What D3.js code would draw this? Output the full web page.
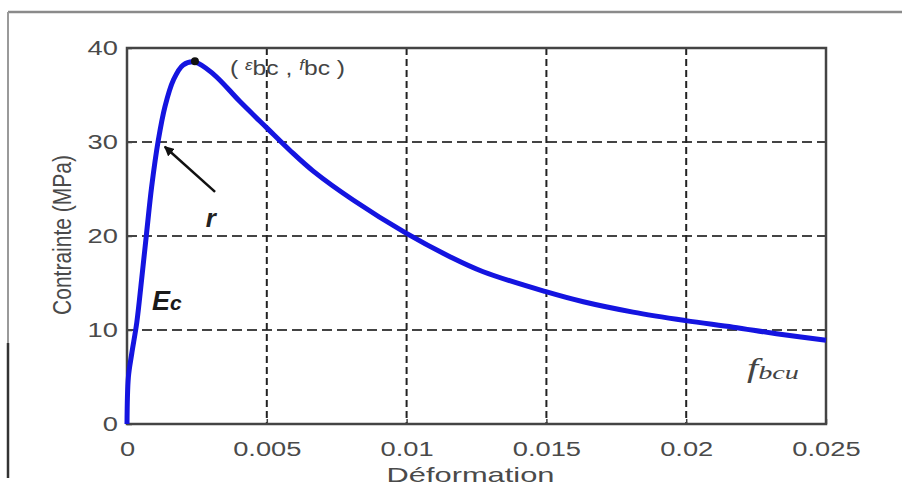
<!DOCTYPE html>
<html>
<head>
<meta charset="utf-8">
<script src="https://cdn.jsdelivr.net/npm/d3@7"></script>
<style>
  body { margin: 0; background: #fff; }
  svg { display: block; font-family: 'Liberation Sans', Arial, sans-serif; }
</style>
</head>
<body>
<div class="chart"></div>
<script>
// strain (Deformation) and stress (Contrainte, MPa)
var strain = [0, 0.00005, 0.00017, 0.00035, 0.00052, 0.0007, 0.00088, 0.00112, 0.00136, 0.00166,
  0.00201, 0.00243, 0.0031, 0.00404, 0.005, 0.00583, 0.00666, 0.0081, 0.00998, 0.01155,
  0.01274, 0.01495, 0.01632, 0.0181, 0.01998, 0.02168, 0.02323, 0.025]
var stress = [0, 5.0, 7.5, 10.8, 15.3, 20.3, 25.2, 30.2, 33.8, 36.6,
  38.2, 38.5, 37.2, 34.3, 31.5, 29.1, 26.9, 23.8, 20.3, 17.8,
  16.2, 14.1, 13.0, 11.9, 11.0, 10.3, 9.6, 8.9]
var xTicks = [0, 0.005, 0.01, 0.015, 0.02, 0.025]
var xTickLabels = ['0', '0.005', '0.01', '0.015', '0.02', '0.025']
var yTicks = [0, 10, 20, 30, 40]
var peak = {strain: 0.00243, stress: 38.6}
var arrowFrom = {strain: 0.00315, stress: 24.7}
var arrowTo = {strain: 0.00135, stress: 29.5}

var data = strain.map(function(s, i) {
  return {strain: s, stress: stress[i]}
})

var margin = {top: 48, right: 76, bottom: 62, left: 127}
var width = 902 - margin.left - margin.right
var height = 486 - margin.top - margin.bottom

var svg = d3.select('.chart')
  .append('svg')
  .attr('width', 902)
  .attr('height', 486)

// outer frame of the screenshot
svg.append('line')
  .attr('x1', 8).attr('x2', 902).attr('y1', 12).attr('y2', 12)
  .style('stroke', '#8a8a8a').style('stroke-width', 2.5)
svg.append('line')
  .attr('x1', 8).attr('x2', 8).attr('y1', 12).attr('y2', 343)
  .style('stroke', '#9a9a9a').style('stroke-width', 2)
svg.append('line')
  .attr('x1', 8).attr('x2', 8).attr('y1', 343).attr('y2', 478)
  .style('stroke', '#333').style('stroke-width', 2.5)

var g = svg.append('g')
  .attr('transform', 'translate(' + margin.left + ',' + margin.top + ')')

var x = d3.scaleLinear().domain([0, 0.025]).range([0, width])
var y = d3.scaleLinear().domain([0, 40]).range([height, 0])

// dashed grid
g.append('g').selectAll('line')
  .data(yTicks.filter(function(d) { return d > 0 && d < 40 }))
  .enter().append('line')
  .attr('x1', 0).attr('x2', width)
  .attr('y1', function(d) { return y(d) }).attr('y2', function(d) { return y(d) })
  .style('stroke', '#444').style('stroke-width', 2)
  .style('stroke-dasharray', '10,5')
g.append('g').selectAll('line')
  .data(xTicks.filter(function(d) { return d > 0 && d < 0.025 }))
  .enter().append('line')
  .attr('y1', 0).attr('y2', height)
  .attr('x1', function(d) { return x(d) }).attr('x2', function(d) { return x(d) })
  .style('stroke', '#222').style('stroke-width', 2)
  .style('stroke-dasharray', '7,4')

// axes
var xAxis = g.append('g')
  .attr('class', 'axis axis--x')
  .attr('transform', 'translate(0,' + height + ')')
  .call(d3.axisBottom(x).tickValues(xTicks)
    .tickFormat(function(d, i) { return xTickLabels[i] })
    .tickSize(-5).tickPadding(0))
var yAxis = g.append('g')
  .attr('class', 'axis axis--y')
  .call(d3.axisLeft(y).tickValues(yTicks).tickSize(-5).tickPadding(7))

;[xAxis, yAxis].forEach(function(a) {
  a.select('.domain').remove()
  a.selectAll('line').style('stroke', '#444').style('stroke-width', 1.5)
  a.selectAll('text')
    .style('font-size', '21px')
    .style('fill', '#4a4a4a')
    .attr('transform', 'scale(1.3,1)')
})
xAxis.selectAll('text').attr('y', 17)

// plot box
g.append('rect')
  .attr('width', width).attr('height', height)
  .style('fill', 'none').style('stroke', '#444').style('stroke-width', 2.5)

// axis titles
g.append('text')
  .attr('x', width / 2 - 6)
  .attr('y', height + 58)
  .attr('text-anchor', 'middle')
  .attr('textLength', 168)
  .attr('lengthAdjust', 'spacingAndGlyphs')
  .style('font-size', '21px')
  .style('fill', '#4a4a4a')
  .text('Déformation')
g.append('text')
  .attr('transform', 'translate(' + (71 - margin.left) + ',' + (235 - margin.top) + ') rotate(-90) scale(1,1.25)')
  .attr('text-anchor', 'middle')
  .style('font-size', '21px')
  .style('fill', '#4a4a4a')
  .text('Contrainte (MPa)')

// curve
var line = d3.line()
  .curve(d3.curveCatmullRom.alpha(0.5))
  .x(function(d) { return x(d.strain) })
  .y(function(d) { return y(d.stress) })
g.append('path')
  .datum(data)
  .attr('d', line)
  .style('fill', 'none')
  .style('stroke', '#1414e0')
  .style('stroke-width', 5)
  .style('stroke-linejoin', 'round')

// peak marker
g.append('circle')
  .attr('cx', x(peak.strain)).attr('cy', y(peak.stress))
  .attr('r', 4)
  .style('fill', '#111')

// arrow towards r
svg.append('defs').append('marker')
  .attr('id', 'head')
  .attr('viewBox', '0 0 10 10')
  .attr('refX', 9).attr('refY', 5)
  .attr('markerWidth', 4).attr('markerHeight', 4)
  .attr('orient', 'auto')
  .append('path')
  .attr('d', 'M0,0L10,5L0,10z')
  .style('fill', '#111')
g.append('line')
  .attr('x1', x(arrowFrom.strain)).attr('y1', y(arrowFrom.stress))
  .attr('x2', x(arrowTo.strain)).attr('y2', y(arrowTo.stress))
  .style('stroke', '#111').style('stroke-width', 2.5)
  .attr('marker-end', 'url(#head)')

// labels
g.append('text')
  .attr('x', x(0.003)).attr('y', y(21))
  .attr('text-anchor', 'middle')
  .style('font-size', '26px').style('font-style', 'italic').style('font-weight', 'bold')
  .style('fill', '#222')
  .text('r')

var ec = g.append('text')
  .attr('x', 25).attr('y', 262)
  .style('font-style', 'italic').style('font-weight', 'bold')
  .style('fill', '#1a1a1a')
ec.append('tspan').style('font-size', '27px').text('E')
ec.append('tspan').style('font-size', '21px').text('c')

var pk = g.append('text')
  .attr('x', 103).attr('y', 27)
  .attr('textLength', 115)
  .attr('lengthAdjust', 'spacingAndGlyphs')
  .style('font-size', '20px')
  .style('fill', '#444')
pk.append('tspan').text('( ')
pk.append('tspan').attr('dy', -5).style('font-size', '14px').style('font-style', 'italic').text('ε')
pk.append('tspan').attr('dy', 5).style('font-size', '20px').text('bc')
pk.append('tspan').text(' , ')
pk.append('tspan').attr('dy', -5).style('font-size', '14px').style('font-style', 'italic').text('f')
pk.append('tspan').attr('dy', 5).style('font-size', '20px').text('bc')
pk.append('tspan').text(' )')

var fu = g.append('text')
  .attr('x', 620).attr('y', 329)
  .attr('textLength', 52)
  .attr('lengthAdjust', 'spacingAndGlyphs')
  .style('font-family', "'Liberation Serif', 'DejaVu Serif', serif")
  .style('font-style', 'italic')
  .style('fill', '#444')
fu.append('tspan').style('font-size', '27px').text('f')
fu.append('tspan').attr('dy', 2).style('font-size', '19px').text('bcu')
</script>
</body>
</html>
